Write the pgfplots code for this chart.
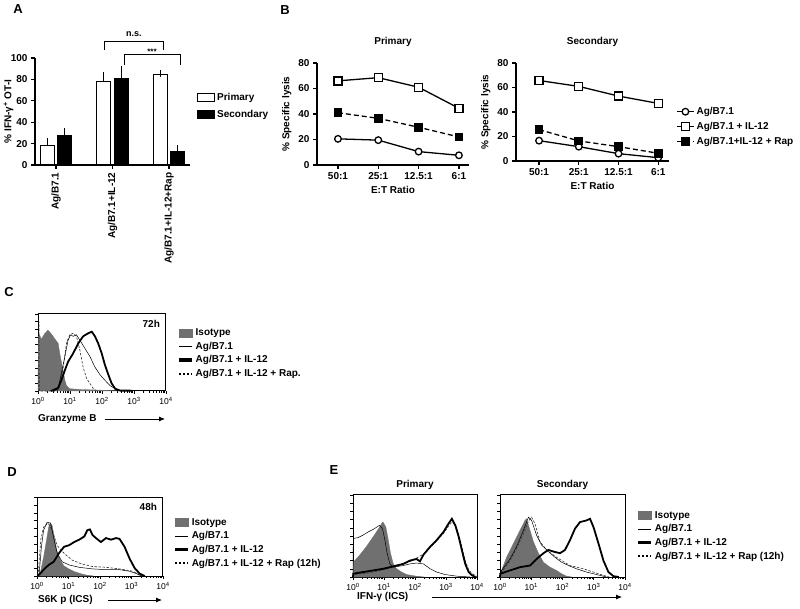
\documentclass[border=0pt]{standalone}
\usepackage{fontspec}
\setmainfont{Liberation Sans}
\usepackage{pgfplots}
\pgfplotsset{compat=1.18}
\usetikzlibrary{arrows.meta}
\definecolor{isogray}{RGB}{112,112,112}
\newcommand{\fs}[1]{\fontsize{#1}{#1}\selectfont}

\pgfplotsset{
  prism/.style={
    scale only axis, clip=false,
    axis x line*=bottom, axis y line*=left,
    tick align=outside,
    axis line style={line width=1.2pt},
    every tick/.style={black, line width=1.2pt},
    major tick length=4pt,
    tick label style={font=\bfseries\fs{10}},
    label style={font=\bfseries\fs{10}},
    title style={font=\bfseries\fs{10}},
    /pgf/number format/assume math mode=true,
  },
  flow/.style={
    scale only axis, clip=false,
    xmin=0, xmax=4, ymin=0, ymax=100,
    tick align=outside, xtick pos=left, ytick pos=left,
    xtick={0,1,2,3,4},
    xticklabels={10\textsuperscript{0},10\textsuperscript{1},10\textsuperscript{2},10\textsuperscript{3},10\textsuperscript{4}},
    minor xtick={0.301,0.477,0.602,0.699,0.778,0.845,0.903,0.954,1.301,1.477,1.602,1.699,1.778,1.845,1.903,1.954,2.301,2.477,2.602,2.699,2.778,2.845,2.903,2.954,3.301,3.477,3.602,3.699,3.778,3.845,3.903,3.954},
    ytick={0,10,...,100}, yticklabels={},
    axis line style={line width=1pt},
    every tick/.style={black, line width=0.6pt},
    major tick length=3pt, minor tick length=2pt,
    tick label style={font=\fs{8.5}},
    title style={font=\bfseries\fs{10}, yshift=-4pt},
    legend style={draw=none, fill=none, font=\bfseries\fs{10}, anchor=north west,
      legend cell align=left, row sep=1pt, inner sep=0pt},
    legend image code/.code={\draw[#1] (0pt,0pt) -- (13pt,0pt);},
  },
  iso/.style={fill=isogray, draw=isogray, line width=0.3pt, forget plot},
  thinl/.style={black, line width=0.5pt, forget plot},
  thickl/.style={black, line width=1.8pt, forget plot},
  rapl/.style={black!80, line width=0.6pt, dash pattern=on 2.5pt off 1.5pt, forget plot},
}

\newcommand{\flowlegend}[1]{%
  \addlegendimage{legend image code/.code={\fill[isogray] (0pt,-4pt) rectangle (13pt,4pt);}}
  \addlegendentry{Isotype}
  \addlegendimage{black, line width=0.6pt}
  \addlegendentry{Ag/B7.1}
  \addlegendimage{black, line width=3.5pt}
  \addlegendentry{Ag/B7.1 + IL-12}
  \addlegendimage{black, line width=2pt, dash pattern=on 2pt off 2pt}
  \addlegendentry{#1}
}

\begin{document}
\begin{tikzpicture}

% ---------------- A ----------------
% bars sit at group position -/+ 0.159 (9pt at 56.5pt per group)
\begin{axis}[prism, at={(35pt,443pt)}, anchor=south west, width=155pt, height=107pt,
  xmin=-0.372, xmax=2.372, ymin=0, ymax=100, ytick={0,20,40,60,80,100},
  yticklabel style={anchor=east},
  xtick={0,1,2}, xticklabels={Ag/B7.1, Ag/B7.1+IL-12, Ag/B7.1+IL-12+Rap},
  xticklabel style={rotate=90, anchor=east},
  ylabel={\% IFN-γ\textsuperscript{+} OT-I},
  ylabel style={at={(axis description cs:-0.17,0.5)}, anchor=center},
  error bars/y dir=plus, error bars/y explicit,
  error bars/error bar style={line width=1pt, black},
  error bars/error mark options={line width=1pt, mark size=3.5pt, black},
  legend style={at={(1.045,0.69)}, anchor=north west, draw=none, fill=none,
    font=\bfseries\fs{10}, legend cell align=left, row sep=4pt, inner sep=0pt},
  legend image code/.code={\draw[#1] (0pt,-4pt) rectangle (17pt,4pt);},
]
\addplot[ybar, bar width=14pt, bar shift=0pt, fill=white, draw=black, line width=1pt] coordinates {(-0.159,18) +- (0,4) (0.841,78) +- (0,6) (1.841,84.5) +- (0,1)};
\addplot[ybar, bar width=14pt, bar shift=0pt, fill=black, draw=black, line width=1pt] coordinates {(0.159,28) +- (0,3) (1.159,80.5) +- (0,8.5) (2.159,13) +- (0,2)};
\legend{Primary, Secondary}
\draw[line width=1pt] (axis cs:0.867,107.5) |- (axis cs:1.894,115) -- (axis cs:1.894,107.5);
\node[font=\bfseries\fs{9}] at (axis cs:1.38,122) {n.s.};
\draw[line width=1pt] (axis cs:1.204,93.5) |- (axis cs:2.212,103) -- (axis cs:2.212,93.5);
\node[font=\bfseries\fs{8}] at (axis cs:1.7,106) {***};
\end{axis}

% ---------------- B primary ----------------
\begin{axis}[prism, at={(317pt,443pt)}, anchor=south west, width=152pt, height=102pt,
  xmin=-0.52, xmax=3.25, ymin=0, ymax=80, ytick={0,20,...,80},
  xtick={0,1,2,3}, xticklabels={50:1,25:1,12.5:1,6:1},
  xlabel={E:T Ratio}, ylabel={\% Specific lysis},
  title={Primary}, title style={yshift=7pt}]
\addplot[black, line width=1.3pt, mark=*, mark size=3.3pt, mark options={fill=white, solid}] coordinates {(0,20.5)(1,19.5)(2,10.5)(3,7.6)};
\addplot[black, line width=1.3pt, mark=square*, mark size=4pt, mark options={fill=white, solid}] coordinates {(0,66)(1,68.5)(2,61)(3,44.5)};
\addplot[black, line width=1.3pt, dash pattern=on 5pt off 3pt, mark=square*, mark size=3.7pt, mark options={fill=black, solid}] coordinates {(0,41)(1,36.6)(2,29.6)(3,22)};
\end{axis}

% ---------------- B secondary ----------------
\begin{axis}[prism, at={(516pt,447pt)}, anchor=south west, width=153pt, height=98pt,
  xmin=-0.58, xmax=3.27, ymin=0, ymax=80, ytick={0,20,...,80},
  xtick={0,1,2,3}, xticklabels={50:1,25:1,12.5:1,6:1},
  xlabel={E:T Ratio}, ylabel={\% Specific lysis},
  title={Secondary}, title style={yshift=7pt},
  legend style={at={(1.046,0.57)}, anchor=north west, draw=none, fill=none,
    font=\bfseries\fs{10}, legend cell align=left, row sep=2pt, inner sep=0pt}]
\addplot[black, line width=1.3pt, mark=*, mark size=3.3pt, mark options={fill=white, solid}] coordinates {(0,16.6)(1,11.7)(2,6)(3,2.7)};
\addplot[black, line width=1.3pt, mark=square*, mark size=4pt, mark options={fill=white, solid}] coordinates {(0,65.7)(1,60.9)(2,53)(3,47)};
\addplot[black, line width=1.3pt, dash pattern=on 5pt off 3pt, mark=square*, mark size=3.7pt, mark options={fill=black, solid}] coordinates {(0,25.6)(1,16.4)(2,11.7)(3,6.3)};
\legend{Ag/B7.1, Ag/B7.1 + IL-12, Ag/B7.1+IL-12 + Rap}
\end{axis}

% ---------------- C ----------------
\begin{axis}[flow, at={(38pt,217pt)}, anchor=south west, width=128pt, height=77pt,
  legend style={at={(1.086,0.84)}}]
\addplot[iso] coordinates {(0,0)(0.01,70)(0.05,73)(0.1,67)(0.2,74)(0.31,79)(0.42,74)(0.52,68)(0.63,62)(0.68,49)(0.73,38)(0.79,25)(0.84,14)(0.89,7)(0.99,3)(1.31,2)(2.04,1)(2.5,0)} \closedcycle;
\addplot[rapl] coordinates {(0.02,0)(0.03,90)(0.04,0)(0.6,0)(0.68,7)(0.79,31)(0.89,62)(0.99,73)(1.1,75)(1.2,71)(1.31,53)(1.41,31)(1.52,16)(1.62,10)(1.73,3)(1.83,0)};
\addplot[thinl] coordinates {(0.5,0)(0.63,3)(0.73,23)(0.84,45)(0.94,66)(1.02,73)(1.1,71)(1.2,73)(1.31,66)(1.47,55)(1.62,45)(1.78,31)(1.94,21)(2.09,14)(2.25,7)(2.41,3)(2.57,0)};
\addplot[thickl] coordinates {(0.4,0)(0.47,1)(0.63,4)(0.73,14)(0.84,27)(0.94,38)(1.1,49)(1.26,62)(1.41,71)(1.57,75)(1.68,77)(1.78,71)(1.88,62)(1.99,49)(2.09,34)(2.2,21)(2.3,10)(2.41,3)(2.57,0.5)(2.88,0.5)(2.95,0)};
\flowlegend{Ag/B7.1 + IL-12 + Rap.}
\node[anchor=north east, font=\bfseries\fs{10}] at (rel axis cs:0.98,0.97) {72h};
\end{axis}

% ---------------- D ----------------
\begin{axis}[flow, at={(37pt,32pt)}, anchor=south west, width=126pt, height=79pt,
  legend style={at={(1.08,0.76)}}]
\addplot[iso] coordinates {(0,0)(0.11,5)(0.21,24)(0.3,45)(0.37,62)(0.42,67)(0.48,64)(0.55,49)(0.63,32)(0.74,20)(0.85,13)(1.01,9)(1.16,6)(1.38,3)(1.59,1)(1.8,0)} \closedcycle;
\addplot[rapl] coordinates {(0.02,0)(0.05,8)(0.12,46)(0.21,62)(0.35,67)(0.48,58)(0.64,39)(0.75,33)(0.91,27)(1.12,20)(1.44,15)(1.76,12)(2.19,11)(2.62,9)(3.05,6)(3.26,1)(3.35,0)};
\addplot[thinl] coordinates {(0.03,0)(0.07,3)(0.14,37)(0.21,58)(0.32,68)(0.43,67)(0.53,48)(0.64,29)(0.8,18)(1.02,14)(1.34,11)(1.76,9)(2.19,8)(2.62,8)(2.94,6)(3.16,3)(3.32,0)};
\addplot[thickl] coordinates {(0.02,0)(0.1,3)(0.21,8)(0.37,14)(0.53,18)(0.7,29)(0.86,37)(1.02,39)(1.18,43)(1.34,46)(1.5,50)(1.6,58)(1.68,59)(1.76,52)(1.87,48)(2.03,43)(2.19,48)(2.35,46)(2.51,48)(2.62,47)(2.78,37)(2.94,22)(3.1,10)(3.26,3)(3.42,0)};
\flowlegend{Ag/B7.1 + IL-12 + Rap (12h)}
\node[anchor=north east, font=\bfseries\fs{10}] at (rel axis cs:0.98,0.97) {48h};
\end{axis}

% ---------------- E primary ----------------
\begin{axis}[flow, at={(353pt,31pt)}, anchor=south west, width=124pt, height=82pt,
  title={Primary}]
\addplot[iso] coordinates {(0,0)(0.01,18)(0.22,27)(0.43,37)(0.65,49)(0.81,58)(0.92,65)(0.97,67)(1.06,61)(1.14,45)(1.21,29)(1.3,16)(1.41,10)(1.57,6)(1.73,3)(2.05,1)(2.3,0)} \closedcycle;
\addplot[rapl] coordinates {(0,0)(0.01,3)(0.5,5)(1.0,9)(1.5,14)(1.84,19)(2.05,23)(2.27,28)(2.49,36)(2.7,44)(2.92,53)(3.08,62)(3.19,67)(3.3,64)(3.41,52)(3.51,37)(3.62,20)(3.73,9)(3.84,4)(3.95,2)(4,0)};
\addplot[thinl] coordinates {(0,0)(0.01,47)(0.16,48)(0.32,51)(0.49,55)(0.65,58)(0.81,62)(0.86,63)(0.95,59)(1.03,45)(1.1,29)(1.19,16)(1.3,12)(1.46,13)(1.62,14)(1.84,16)(2.05,17)(2.27,16)(2.49,10)(2.7,6)(2.97,3)(3.35,1)(3.78,0)};
\addplot[thickl] coordinates {(0,0)(0.01,4)(0.32,6)(0.65,8)(0.97,10)(1.3,13)(1.62,16)(1.84,20)(2.05,22)(2.16,19)(2.27,27)(2.49,37)(2.7,45)(2.92,55)(3.08,65)(3.19,71)(3.3,63)(3.41,49)(3.51,33)(3.62,16)(3.73,6)(3.84,2)(3.95,0)};
\end{axis}

% ---------------- E secondary ----------------
\begin{axis}[flow, at={(500pt,31pt)}, anchor=south west, width=125pt, height=82pt,
  title={Secondary}, legend style={at={(1.09,0.83)}}]
\addplot[iso] coordinates {(0,0)(0.05,8)(0.21,24)(0.43,41)(0.64,57)(0.8,69)(0.85,71)(0.96,57)(1.07,43)(1.23,29)(1.39,18)(1.6,12)(1.81,8)(1.97,4)(2.13,1)(2.3,0)} \closedcycle;
\addplot[rapl] coordinates {(0,0)(0.05,6)(0.32,20)(0.53,35)(0.75,53)(0.91,68)(1.01,73)(1.12,65)(1.28,43)(1.49,33)(1.81,24)(2.24,14)(2.67,10)(2.99,6)(3.31,2)(3.5,0)};
\addplot[thinl] coordinates {(0,0)(0.05,8)(0.32,22)(0.53,37)(0.75,57)(0.91,73)(1.01,69)(1.17,51)(1.33,39)(1.55,31)(1.76,24)(1.97,18)(2.19,14)(2.45,10)(2.77,6)(3.09,3)(3.41,0)};
\addplot[thickl] coordinates {(0,0)(0.01,4)(0.32,8)(0.64,12)(0.96,14)(1.17,22)(1.39,29)(1.55,33)(1.71,31)(1.92,29)(2.08,33)(2.24,45)(2.4,59)(2.56,67)(2.77,69)(2.88,71)(2.99,61)(3.15,41)(3.31,20)(3.47,6)(3.63,1)(3.8,0)};
\flowlegend{Ag/B7.1 + IL-12 + Rap (12h)}
\end{axis}

% panel letters and axis arrows
\node[font=\bfseries\fs{13}] at (18pt,599pt) {A};
\node[font=\bfseries\fs{13}] at (285pt,598pt) {B};
\node[font=\bfseries\fs{13}] at (9pt,316pt) {C};
\node[font=\bfseries\fs{13}] at (12pt,136pt) {D};
\node[font=\bfseries\fs{13}] at (334pt,138pt) {E};

\node[anchor=west, font=\bfseries\fs{10}, inner sep=0pt] at (38pt,189pt) {Granzyme B};
\draw[-{Latex[length=6pt,width=5pt]}, line width=0.8pt] (105pt,189pt) -- (165pt,189pt);
\node[anchor=west, font=\bfseries\fs{10}, inner sep=0pt] at (38pt,8pt) {S6K p (ICS)};
\draw[-{Latex[length=6pt,width=5pt]}, line width=0.8pt] (108pt,8pt) -- (162pt,8pt);
\node[anchor=west, font=\bfseries\fs{10}, inner sep=0pt] at (357pt,11pt) {IFN-γ (ICS)};
\draw[-{Latex[length=6pt,width=5pt]}, line width=0.8pt] (432pt,11pt) -- (622pt,11pt);

\pgfresetboundingbox
\path (0pt,0pt) rectangle (800pt,608pt);
\end{tikzpicture}
\end{document}
